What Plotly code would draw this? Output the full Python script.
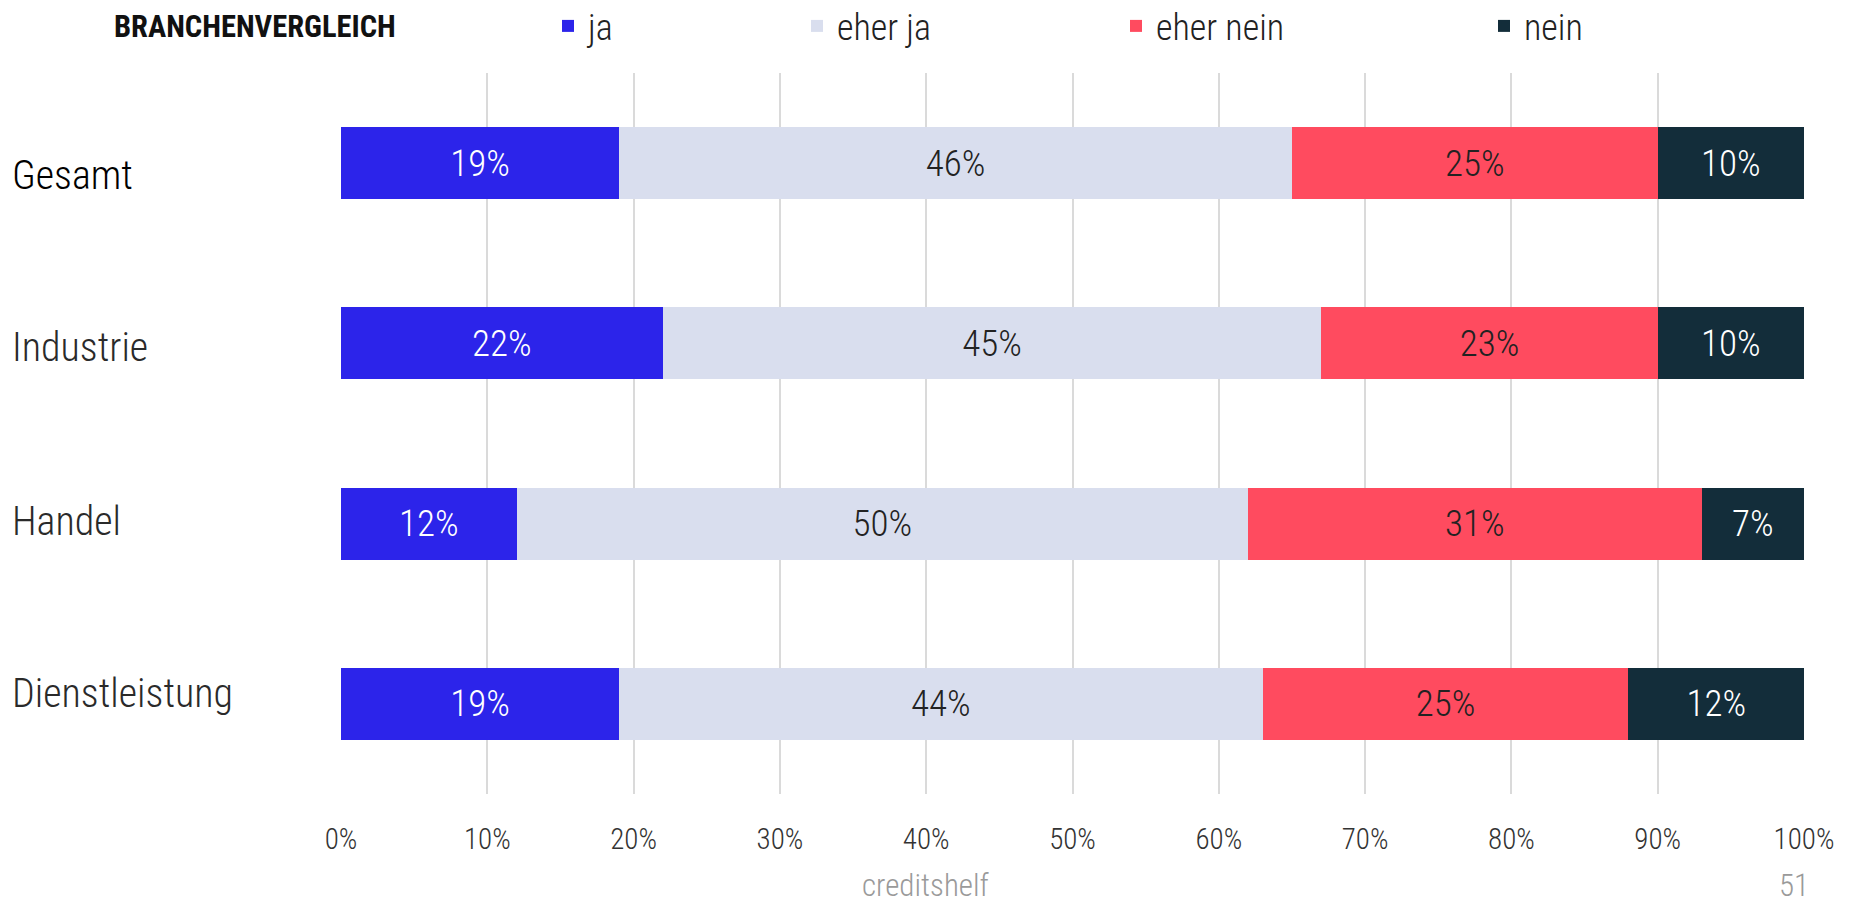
import plotly.graph_objects as go

categories = ["Gesamt", "Industrie", "Handel", "Dienstleistung"]
series_names = ["ja", "eher ja", "eher nein", "nein"]
ja = [19, 22, 12, 19]
eher_ja = [46, 45, 50, 44]
eher_nein = [25, 23, 31, 25]
nein = [10, 10, 7, 12]
x_ticks = [0, 10, 20, 30, 40, 50, 60, 70, 80, 90, 100]
x_tick_labels = ["0%", "10%", "20%", "30%", "40%", "50%", "60%", "70%", "80%", "90%", "100%"]
title_text = "BRANCHENVERGLEICH"
footer_text = "creditshelf"
page_number = "51"

FONT = "Roboto Condensed, Liberation Sans Narrow, DejaVu Sans Condensed, sans-serif"
W, H = 1857, 907
ML, MR, MT, MB = 341, 53, 73, 113
PW = W - ML - MR
PH = H - MT - MB

colors = ["#2C24EA", "#D9DEEE", "#FF4B5F", "#132D3A"]
text_colors = ["#FFFFFF", "#222222", "#222222", "#FFFFFF"]
legend_px = [548, 797, 1116, 1484]

fig = go.Figure()
values = [ja, eher_ja, eher_nein, nein]
for i, (name, vals) in enumerate(zip(series_names, values)):
    lg = "legend" if i == 0 else f"legend{i+1}"
    fig.add_trace(go.Bar(
        y=categories, x=vals, name=name, orientation="h",
        marker=dict(color=colors[i], line=dict(width=0)),
        width=0.4,
        text=[f"{v}%" for v in vals],
        textposition="inside", insidetextanchor="middle", textangle=0,
        constraintext="none",
        textfont=dict(family=FONT, size=37, color=text_colors[i], weight=300),
        legend=lg,
        hoverinfo="skip",
    ))

legend_defs = {}
for i, px in enumerate(legend_px):
    key = "legend" if i == 0 else f"legend{i+1}"
    legend_defs[key] = dict(
        xref="container", yref="container",
        x=px / W, xanchor="left",
        y=1 - 26 / H, yanchor="middle",
        orientation="h",
        font=dict(family=FONT, size=36, color="#222222", weight=300),
        bgcolor="rgba(0,0,0,0)",
    )

annotations = [dict(
    text=f"<b>{title_text}</b>", xref="paper", yref="paper",
    x=(112 - ML) / PW, xanchor="left", y=1 + (MT - 26) / PH, yanchor="middle",
    showarrow=False, font=dict(family=FONT, size=30.5, color="#111111"),
)]
label_shift = [-12, -4, 2, 10]
for i, c in enumerate(categories):
    annotations.append(dict(
        text=c, xref="paper", yref="y", x=(10 - ML) / PW, y=c,
        xanchor="left", yanchor="middle", yshift=label_shift[i], showarrow=False,
        font=dict(family=FONT, size=40, color="#000000" if i == 0 else "#2a2a2a",
                  weight=300),
    ))
for txt, px in [(footer_text, 926), (page_number, 1794)]:
    annotations.append(dict(
        text=txt, xref="paper", yref="paper", x=(px - ML) / PW, y=-(885 - MT - PH) / PH,
        xanchor="center", yanchor="middle", showarrow=False,
        font=dict(family=FONT, size=31, color="#9a9a9a", weight=300),
    ))

fig.update_layout(
    width=W, height=H,
    margin=dict(l=ML, r=MR, t=MT, b=MB, autoexpand=False),
    barmode="stack",
    plot_bgcolor="white", paper_bgcolor="white",
    showlegend=True,
    annotations=annotations,
    xaxis=dict(
        range=[0, 100], tickmode="array", tickvals=x_ticks, ticktext=x_tick_labels,
        showgrid=True, gridcolor="#DADADA", gridwidth=1.5,
        zeroline=False, showline=False,
        tickfont=dict(family=FONT, size=29, color="#333333", weight=300),
        ticklabelstandoff=25,
    ),
    yaxis=dict(
        autorange="reversed", showticklabels=False, showgrid=False,
        zeroline=False, showline=False,
    ),
    **legend_defs,
)

fig.write_html("out.html", config={"displayModeBar": False},
               post_script="document.body.style.margin='0';document.body.style.padding='0';")
